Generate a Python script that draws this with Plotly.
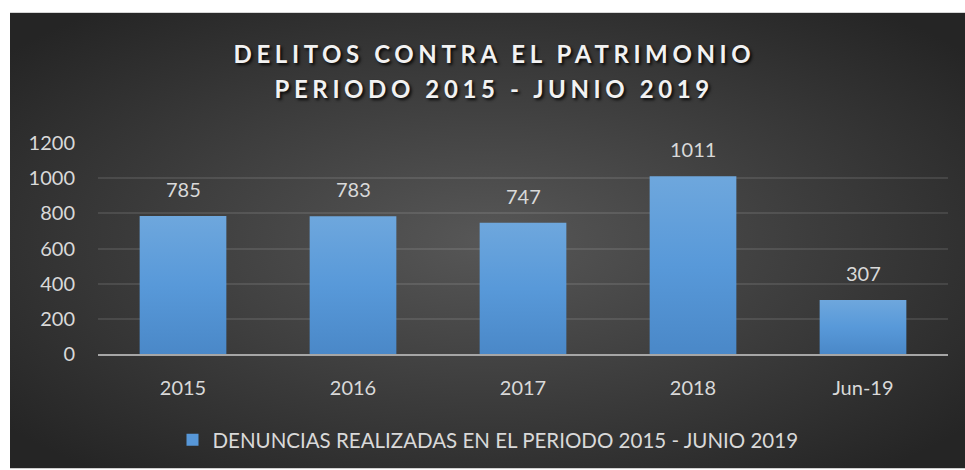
import base64
import plotly.graph_objects as go

categories = ["2015", "2016", "2017", "2018", "Jun-19"]
values = [785, 783, 747, 1011, 307]
y_ticks = [0, 200, 400, 600, 800, 1000, 1200]
series_name = "DENUNCIAS REALIZADAS EN EL PERIODO 2015 - JUNIO 2019"
title_lines = ["DELITOS CONTRA EL PATRIMONIO", "PERIODO 2015 - JUNIO 2019"]

W, H = 965, 470
L, R, T, B = 98, 17, 143, 115
pw, ph = W - L - R, H - T - B

def px_x(p):
    return (p - L) / pw

def px_y(p):
    return (H - B - p) / ph

svg = (
    '<svg xmlns="http://www.w3.org/2000/svg" width="955" height="458" '
    'viewBox="0 0 955 458" preserveAspectRatio="none">'
    '<defs><radialGradient id="g" cx="50%" cy="50%" r="65%" fx="50%" fy="50%">'
    '<stop offset="0%" stop-color="#575757"/>'
    '<stop offset="100%" stop-color="#252525"/>'
    '</radialGradient></defs>'
    '<rect width="955" height="458" fill="url(#g)"/></svg>'
)
bg_src = "data:image/svg+xml;base64," + base64.b64encode(svg.encode()).decode()

font_main = "Lato, 'Open Sans', sans-serif"
txt_col = "#d9d9d9"

fig = go.Figure()
fig.add_trace(go.Bar(
    x=categories, y=values, name=series_name,
    marker=dict(color="#5797d8", line=dict(width=0)),
    showlegend=True,
))

for i, v in enumerate(values):
    fig.add_annotation(x=i, y=v, text=str(v), showarrow=False,
                       yanchor="bottom", yshift=13,
                       font=dict(family=font_main, size=20, color=txt_col))

n_labels = len(categories)
for i, line in enumerate(title_lines):
    fig.add_annotation(xref="paper", yref="paper",
                       x=px_x(494), y=px_y(53.5 + 35 * i),
                       xanchor="center", yanchor="middle",
                       text=line, showarrow=False,
                       font=dict(family=font_main, size=24, color="#f2f2f2",
                                 weight="bold",
                                 shadow="2px 2px 3px rgba(0,0,0,0.85)"))

fig.add_layout_image(dict(source=bg_src, xref="paper", yref="paper",
                          x=px_x(10), y=px_y(12),
                          sizex=955 / pw, sizey=458 / ph,
                          xanchor="left", yanchor="top",
                          sizing="stretch", layer="below"))

fig.update_layout(
    width=W, height=H,
    margin=dict(l=L, r=R, t=T, b=B, pad=0),
    paper_bgcolor="white",
    plot_bgcolor="rgba(0,0,0,0)",
    bargap=0.49,
    font=dict(family=font_main, size=20, color=txt_col),
    legend=dict(orientation="h", x=px_x(488), y=px_y(440),
                xanchor="center", yanchor="middle",
                bgcolor="rgba(0,0,0,0)", itemwidth=30,
                font=dict(family=font_main, size=20.5, color=txt_col)),
    xaxis=dict(type="category", range=[-0.5, len(categories) - 0.5],
               showgrid=False, showline=True,
               linecolor="#a6a6a6", linewidth=2, ticks="",
               ticklabelstandoff=15,
               tickfont=dict(family=font_main, size=20, color=txt_col)),
    yaxis=dict(range=[0, 1200], tickvals=y_ticks, showgrid=True,
               gridcolor="rgba(255,255,255,0.1)", gridwidth=1.5,
               zeroline=False, showline=False, ticks="",
               ticklabelstandoff=22,
               tickfont=dict(family=font_main, size=20, color=txt_col)),
)

post = (
    "document.body.style.margin='0px';"
    "var gd=document.getElementById('{plot_id}');"
    "gd.querySelectorAll('.annotation').forEach(function(a){"
    "var i=parseInt(a.getAttribute('data-index'));"
    "if(i>=%d){var t=a.querySelector('text');"
    "if(t){t.style.letterSpacing='4.6px';}}});"
    "try{var ns='http://www.w3.org/2000/svg';"
    "var sv=gd.querySelector('svg.main-svg');"
    "var defs=sv.querySelector('defs')||sv.insertBefore(document.createElementNS(ns,'defs'),sv.firstChild);"
    "var lg=document.createElementNS(ns,'linearGradient');"
    "lg.setAttribute('id','barGrad');lg.setAttribute('x1','0');lg.setAttribute('y1','0');"
    "lg.setAttribute('x2','0');lg.setAttribute('y2','1');"
    "[['0','#6ea7dd'],['0.5','#5899d9'],['1','#4a88c8']].forEach(function(s){"
    "var st=document.createElementNS(ns,'stop');st.setAttribute('offset',s[0]);"
    "st.setAttribute('stop-color',s[1]);lg.appendChild(st);});"
    "defs.appendChild(lg);"
    "gd.querySelectorAll('.barlayer .point path').forEach(function(p){"
    "p.style.fill='url(#barGrad)';});}catch(e){}"
) % n_labels

fig.write_html("out.html", post_script=post,
               config={"displayModeBar": False})
